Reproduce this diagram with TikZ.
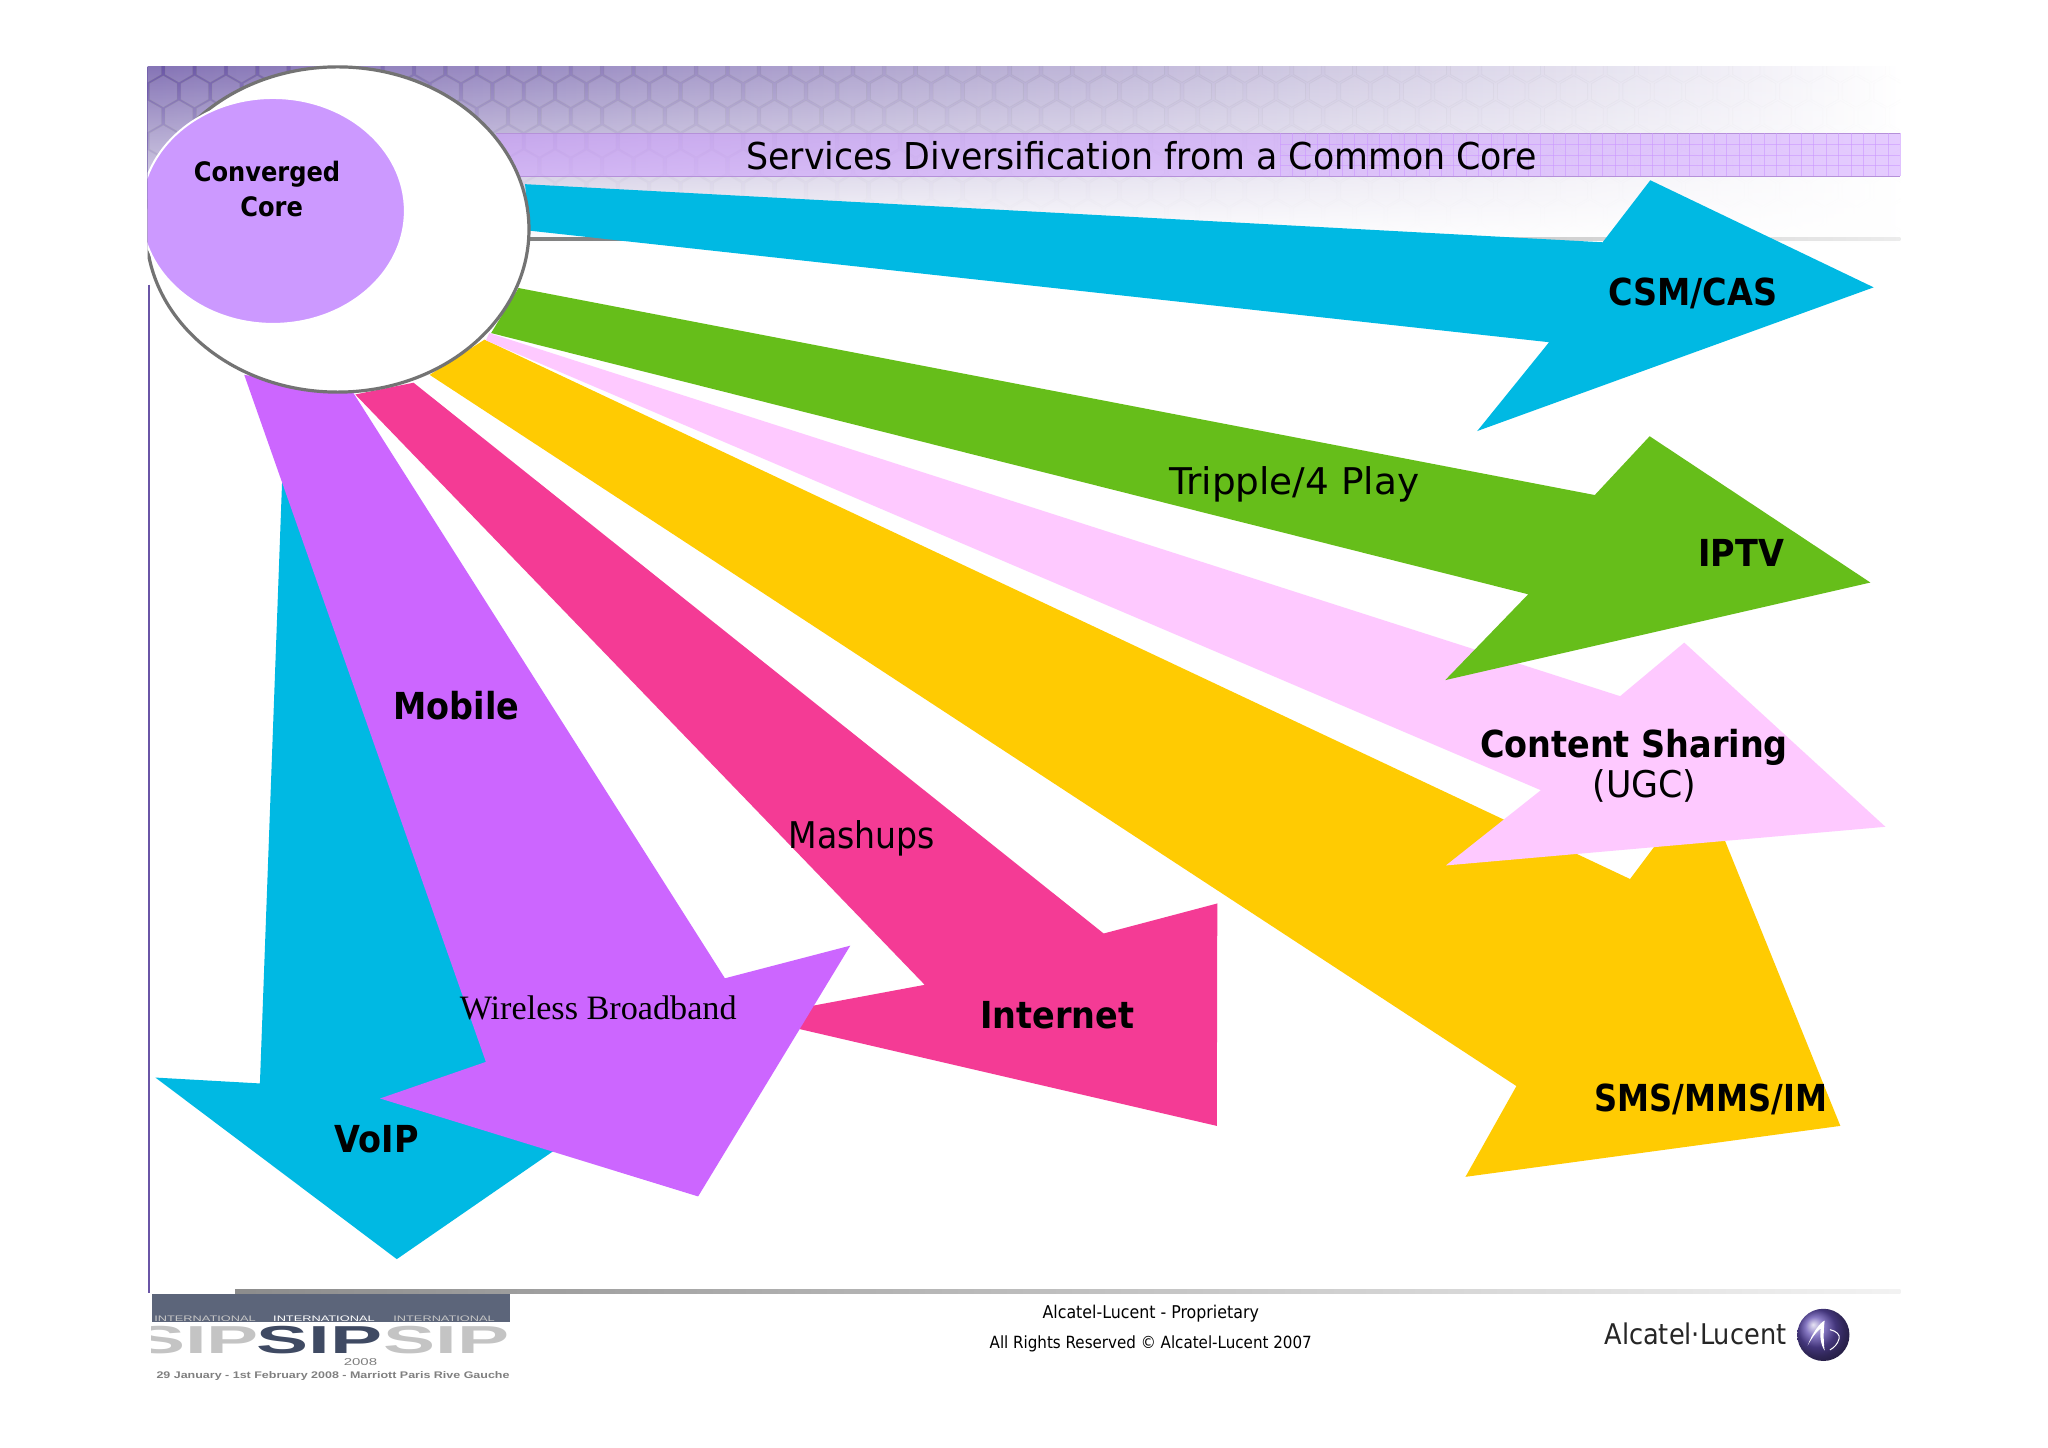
\documentclass[tikz,border=0pt]{standalone}
\usepackage{fontspec}
\setmainfont{Open Sans}
\newfontfamily\tahomaish{DejaVu Sans Condensed}
\newfontfamily\timesish{Liberation Serif}
\newfontfamily\arialish{Liberation Sans}
\usetikzlibrary{fadings}
\definecolor{cblue}{HTML}{00B9E3}
\definecolor{cgreen}{HTML}{66BE1A}
\definecolor{cpink}{HTML}{FEC9FF}
\definecolor{cyellow}{HTML}{FFCB02}
\definecolor{cmag}{HTML}{F43B95}
\definecolor{cpurple}{HTML}{CC66FF}
\definecolor{ccore}{HTML}{CC99FF}
\definecolor{bandtop}{HTML}{6A55A6}
\definecolor{sipdark}{HTML}{3F4A63}
\definecolor{sipgray}{HTML}{C4C4C4}
\tikzset{
  lab/.style={font=\tahomaish\fontsize{18.6}{20}\selectfont\bfseries,text=black,inner sep=0pt},
  labn/.style={font=\tahomaish\fontsize{18.4}{20}\selectfont,text=black,inner sep=0pt},
  corelab/.style={font=\tahomaish\fontsize{13.4}{15}\selectfont\bfseries,inner sep=0pt},
  bigsip/.style={font=\arialish\bfseries\fontsize{19.5}{20}\selectfont,xscale=2.0,inner sep=0pt,anchor=base,text height=14pt,text depth=0pt},
  intl/.style={font=\arialish\fontsize{4}{5}\selectfont,xscale=1.6,inner sep=0pt,anchor=base,text height=3pt,text depth=0pt}
}
\begin{document}
\begin{tikzpicture}[x=0.65306pt,y=-0.65306pt]
\useasboundingbox (0,0) rectangle (1568,1108);
\fill[white] (0,0) rectangle (1568,1108);
% header band with hexagon texture
\begin{scope}
\clip (113,51) rectangle (1455,186);
\fill[left color=bandtop,right color=white] (113,51) rectangle (1455,186);
\foreach \c in {0,...,56}{
  \pgfmathsetmacro{\hop}{0.24*(1-\c/56)+0.01}
  \pgfmathsetmacro{\hfo}{0.18*(1-\c/56)+0.01}
  \foreach \r in {0,...,7}{
    \pgfmathsetmacro{\hx}{113+\c*24+mod(\r,2)*12}
    \pgfmathsetmacro{\hy}{51+\r*19}
    \filldraw[draw=gray,fill=white,draw opacity=\hop,fill opacity=\hfo,line width=.4pt]
      (\hx,\hy-12) -- (\hx+10.5,\hy-6) -- (\hx+10.5,\hy+6) -- (\hx,\hy+12) -- (\hx-10.5,\hy+6) -- (\hx-10.5,\hy-6) -- cycle;
  }
}
\fill[white,path fading=north] (113,51) rectangle (1455,186);
\end{scope}
\fill[ccore,opacity=.5] (380,102) rectangle (1455,135);
\draw[ccore!70!gray,line width=.4pt] (380,102) -- (1455,102) (380,135) -- (1455,135);
\foreach \g in {0,...,50}{
  \draw[ccore,line width=.25pt,opacity=.6] ({980+\g*9.5},102) -- ({980+\g*9.5},135);
}
\foreach \g in {1,...,3}{
  \draw[ccore,line width=.25pt,opacity=.6] (980,{102+\g*8.25}) -- (1455,{102+\g*8.25});
}
\fill[left color=gray,right color=gray!15] (405,181.5) rectangle (1455,184.5);
\draw[bandtop,line width=1pt] (114,218) -- (114,990);
\fill[left color=gray!90,right color=gray!10] (180,987) rectangle (1455,990.5);
% arrows
\fill[cblue] (216,368) -- (199,829.5) -- (119,825) -- (303.8,964) -- (440,870) -- (340,640) -- cycle;
\fill[cmag] (272,302) -- (708,754) -- (574,779) -- (931.6,862) -- (932,691.7) -- (845,714.7) -- (316.6,293) -- cycle;
\fill[cpurple] (187,287) -- (372,813) -- (291,841) -- (534.5,916) -- (651,724) -- (555,749) -- (270,300) -- cycle;
\fill[cyellow] (329,287) -- (1161,831.5) -- (1122,901) -- (1409,862) -- (1303,600) -- (1266,649) -- (1248,673) -- (371,260) -- cycle;
\fill[cpink] (374.6,255) -- (1240.4,533) -- (1289.5,492) -- (1443.5,633) -- (1107,662.6) -- (1179.7,605) -- (372,260.6) -- cycle;
\fill[cgreen] (397,220.5) -- (1221,379) -- (1263,334) -- (1432,446) -- (1106.5,520.7) -- (1170,455) -- (376,255) -- cycle;
\fill[cblue] (402,141) -- (1227,185.5) -- (1263.5,138) -- (1434.5,220) -- (1131,330) -- (1186,262) -- (405.4,176.6) -- cycle;
% core
\begin{scope}
\clip (113,40) rectangle (420,310);
\filldraw[draw=gray!90!black,line width=1.6pt,fill=white] (258.5,175.7) ellipse [x radius=146.5,y radius=124.5];
\filldraw[draw=white,line width=1pt,fill=ccore] (209,161.5) ellipse [x radius=101,y radius=86.5];
\end{scope}
\node[corelab] (core1) at (204.5,133) {Converged};
\node[corelab] (core2) at (208,158) {Core};
\node[font=\tahomaish\fontsize{18.5}{20}\selectfont,xscale=1.045,inner sep=0pt] (title) at (874,119) {Services Diversification from a Common Core};
\node[lab] (csm) at (1296,224.5) {CSM/CAS};
\node[lab] (iptv) at (1333,423) {IPTV};
\node[labn,xscale=1.13] (tp) at (991,371) {Tripple/4 Play};
\node[lab] (cs) at (1251,572.5) {Content Sharing};
\node[labn,xscale=1.05] (ugc) at (1259,601.5) {(UGC)};
\node[lab,xscale=.96] (sms) at (1310,841.5) {SMS/MMS/IM};
\node[lab] (inet) at (809.5,777) {Internet};
\node[labn] (mash) at (660,642) {Mashups};
\node[lab] (mob) at (349.5,540.5) {Mobile};
\node[font=\timesish\fontsize{17.1}{19}\selectfont,inner sep=0pt] (wb) at (458,771.5) {Wireless Broadband};
\node[lab] (voip) at (288.5,872) {VoIP};
% footer
\node[font=\tahomaish\fontsize{8.8}{10}\selectfont,inner sep=0pt] (f1) at (881,1005.5) {Alcatel-Lucent - Proprietary};
\node[font=\tahomaish\fontsize{8.4}{10}\selectfont,inner sep=0pt] (f2) at (881,1029) {All Rights Reserved © Alcatel-Lucent 2007};
\node[font=\tahomaish\fontsize{14.25}{16}\selectfont,text=black!85,inner sep=0pt] (al) at (1298,1021.5) {Alcatel·Lucent};
\shade[ball color=bandtop!90!blue] (1396,1022) circle [radius=20];
\begin{scope}[shift={(1396,1022)}]
\fill[white] (-12,8) .. controls (-8,-2) and (-3,-9) .. (1,-11) .. controls (0,-3) and (0,5) .. (1,12) .. controls (-2,8) and (-3,0) .. (-2,-5) .. controls (-6,-2) and (-9,3) .. (-12,8) -- cycle;
\draw[white,line width=.5pt] (5,-4) .. controls (10,-3) and (13,0) .. (12,3) .. controls (11,7) and (8,10) .. (5,11.5);
\end{scope}
% SIP logo
\fill[sipdark!85!white] (116,991) rectangle (390.5,1012);
\begin{scope}
\clip (116,985) rectangle (392.5,1040);
\node[intl,text=gray!45] (intl1) at (157,1012) {INTERNATIONAL};
\node[intl,text=white] (intl2) at (248,1012) {INTERNATIONAL};
\node[intl,text=gray!45] (intl3) at (340,1012) {INTERNATIONAL};
\node[bigsip,text=sipgray] (sip1) at (150,1036) {SIP};
\node[bigsip,text=sipgray] (sip3) at (342,1036) {SIP};
\node[bigsip,text=sipdark] (sip2) at (244.5,1036) {SIP};
\end{scope}
\node[font=\arialish\fontsize{5}{6}\selectfont,xscale=1.5,text=gray,inner sep=0pt] (yr) at (276,1043) {2008};
\node[font=\arialish\bfseries\fontsize{4.8}{6}\selectfont,xscale=1.3,text=gray,inner sep=0pt] (dt) at (255,1053.5) {29 January - 1st February 2008 - Marriott Paris Rive Gauche};
\end{tikzpicture}
\end{document}
